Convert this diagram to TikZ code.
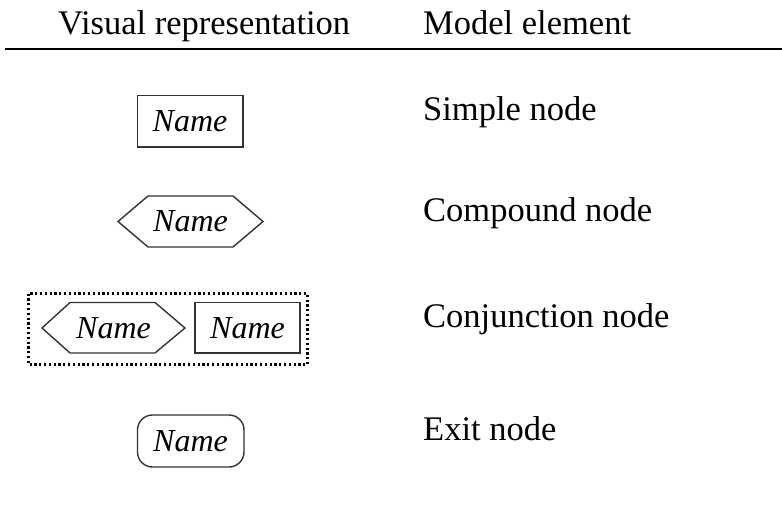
\documentclass[tikz,border=0pt]{standalone}
\usepackage{fontspec}
\setmainfont{Liberation Serif}
\usetikzlibrary{shapes.misc}
\begin{document}
\begin{tikzpicture}[x=1pt,y=-1pt,
  lbl/.style={anchor=base west,inner sep=0pt,font=\fontsize{34.5}{40}\selectfont},
  nm/.style={font=\fontsize{32}{36}\selectfont\itshape,inner sep=0pt},
  shp/.style={draw=black!80,line width=1.4pt}]
\useasboundingbox (0,0) rectangle (782,516);
% header
\node[lbl] (h1) at (58,35) {Visual representation};
\node[lbl] (h2) at (423,35) {Model element};
\draw[line width=2.8pt] (5,49) -- (782,49);
% simple node
\draw[shp] (137.5,95.5) rectangle (243,147);
\node[nm] (s) at (190,121) {Name};
\node[lbl] (t1) at (423,121) {Simple node};
% compound node
\draw[shp] (118,221.5) -- (148,196) -- (233,196) -- (263,221.5) -- (233,247) -- (148,247) -- cycle;
\node[nm] (c) at (190.5,221.5) {Name};
\node[lbl] (t2) at (423,222) {Compound node};
% conjunction node
\draw[line width=2.2pt,dash pattern=on 2.2pt off 2.6pt] (28.5,293.5) rectangle (307.5,364.5);
\draw[shp] (42,328) -- (70,302.5) -- (155,302.5) -- (185,328) -- (155,353) -- (70,353) -- cycle;
\node[nm] (j1) at (113.5,328) {Name};
\draw[shp] (195,302.5) rectangle (300,353);
\node[nm] (j2) at (247.5,328) {Name};
\node[lbl] (t3) at (423,327) {Conjunction node};
% exit node
\draw[shp,rounded corners=15pt] (137.5,415) rectangle (244,467);
\node[nm] (e) at (190.5,441) {Name};
\node[lbl] (t4) at (423,440) {Exit node};
\end{tikzpicture}
\end{document}
